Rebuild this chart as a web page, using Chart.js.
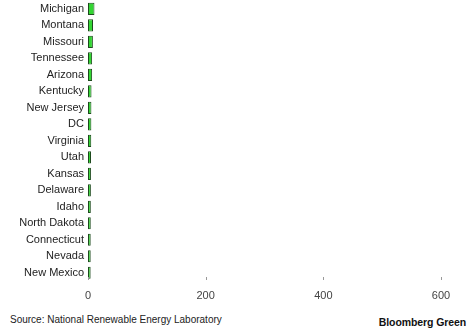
<!DOCTYPE html>
<html><head><meta charset="utf-8">
<script src="https://cdn.jsdelivr.net/npm/chart.js@4"></script>
<style>
html,body{margin:0;padding:0;background:#fff;overflow:hidden;}
#wrap{position:absolute;left:0;top:-10px;width:473px;height:320px;}
.src{position:absolute;left:10px;top:314px;font:10px "Liberation Sans",Arial,sans-serif;color:#222;}
.brand{position:absolute;right:7px;top:316px;font:bold 10.5px "Liberation Sans",Arial,sans-serif;color:#111;letter-spacing:-0.1px;}
</style></head><body>
<div id="wrap"><canvas id="c"></canvas></div>
<div class="src">Source: National Renewable Energy Laboratory</div>
<div class="brand">Bloomberg Green</div>
<script>
const states = ["Michigan","Montana","Missouri","Tennessee","Arizona","Kentucky","New Jersey","DC","Virginia","Utah","Kansas","Delaware","Idaho","North Dakota","Connecticut","Nevada","New Mexico"];
const values = [11, 8.5, 8.3, 7, 7, 6, 5.8, 5.7, 5.5, 5.1, 5.0, 4.9, 4.8, 4.7, 4.6, 4.6, 4.5];
const xTicks = [0, 200, 400, 600];

const tickMarks = {
  id: 'tickMarks',
  afterDraw(chart) {
    const { ctx, chartArea, scales } = chart;
    ctx.save();
    ctx.strokeStyle = '#999';
    ctx.lineWidth = 1;
    xTicks.forEach(v => {
      const x = Math.round(scales.x.getPixelForValue(v)) + 0.5;
      ctx.beginPath();
      ctx.moveTo(x, chartArea.bottom - 4);
      ctx.lineTo(x, chartArea.bottom - 1);
      ctx.stroke();
    });
    ctx.restore();
  }
};

new Chart(document.getElementById('c'), {
  type: 'bar',
  data: {
    labels: states,
    datasets: [{
      data: values,
      backgroundColor: '#33d633',
      borderColor: '#1d4a1d',
      borderWidth: 1,
      borderSkipped: false,
      barPercentage: 0.74,
      categoryPercentage: 1
    }]
  },
  options: {
    indexAxis: 'y',
    responsive: true,
    maintainAspectRatio: false,
    animation: false,
    layout: { padding: { top: 0, right: 32, left: 0, bottom: 0 } },
    plugins: { legend: { display: false }, tooltip: { enabled: false } },
    scales: {
      y: {
        grid: { display: false, drawTicks: false },
        border: { display: false },
        ticks: { color: '#222', font: { family: '"Liberation Sans", Arial, sans-serif', size: 11 }, padding: 4, autoSkip: false },
        afterFit: s => { s.width = 88; }
      },
      x: {
        min: 0, max: 600,
        afterBuildTicks: s => { s.ticks = xTicks.map(v => ({ value: v })); },
        grid: { display: false, drawTicks: false },
        border: { display: false },
        ticks: { color: '#444', font: { family: '"Liberation Sans", Arial, sans-serif', size: 11 }, padding: 8 },
        afterFit: s => { s.height = 29; }
      }
    }
  },
  plugins: [tickMarks]
});
</script>
</body></html>
